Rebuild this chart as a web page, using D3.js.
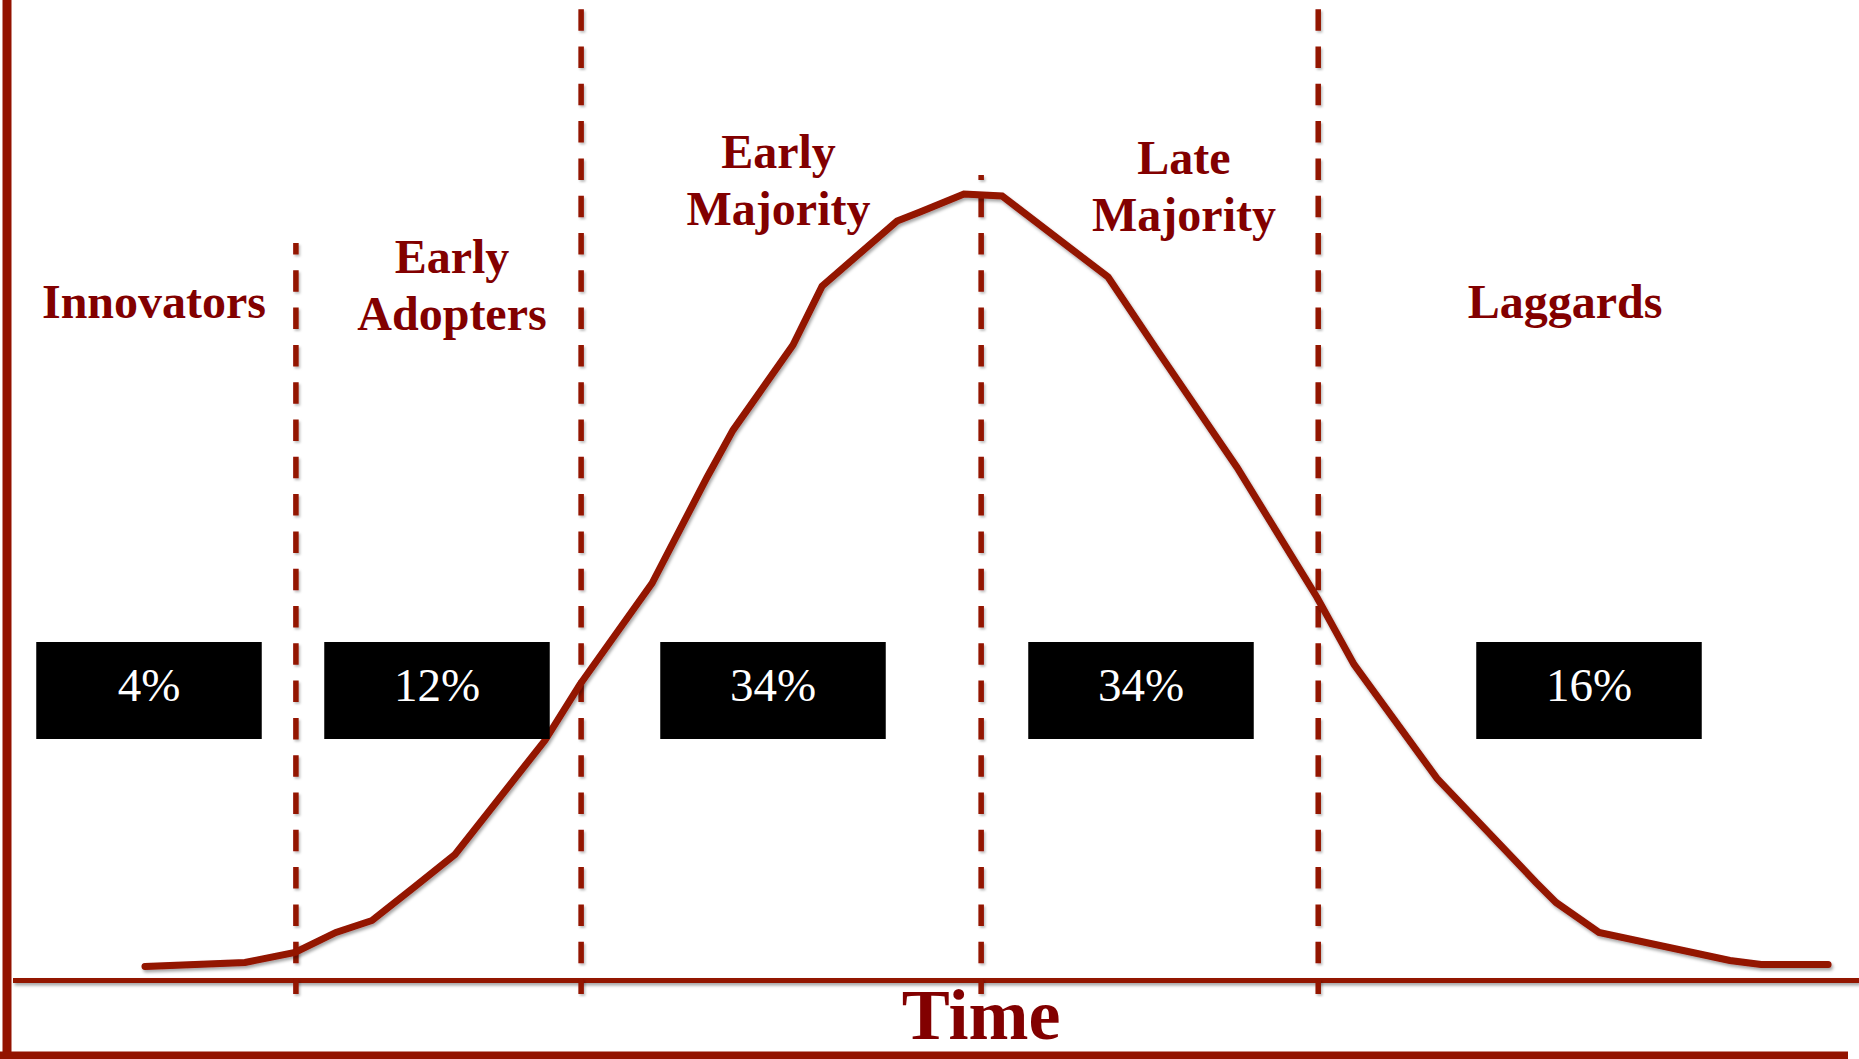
<!DOCTYPE html>
<html>
<head>
<meta charset="utf-8">
<script src="https://cdn.jsdelivr.net/npm/d3@7"></script>
<style>
  html, body { margin: 0; padding: 0; background: #ffffff; overflow: hidden; }
  svg { display: block; }
</style>
</head>
<body>
<svg id="chart" width="1859" height="1059"></svg>
<script>
// ---------------- data ----------------
const stages = ["Innovators", "Early Adopters", "Early Majority", "Late Majority", "Laggards"];
const shares = [4, 12, 34, 34, 16];
// adoption curve (time on x, relative adoption on y, peak ~100)
const curveX = [7.45, 12.85, 15.55, 17.76, 19.71, 22.03, 24.19, 29.05, 30.94, 34.83, 37.80, 39.20, 42.44, 44.01,
                48.06, 49.30, 51.67, 53.73, 59.45, 62.10, 66.41, 70.73, 72.73, 77.21, 82.56, 83.64, 85.96, 93.03, 94.71, 98.33];
const curveY = [1.78, 2.29, 3.56, 6.10, 7.62, 11.94, 16.01, 30.50, 37.61, 50.44, 63.91, 69.89, 80.69, 88.18,
                96.44, 97.59, 99.87, 99.62, 89.33, 80.05, 65.18, 48.67, 40.15, 25.67, 12.45, 9.91, 6.10, 2.54, 2.03, 2.03];
// stage boundaries on the time axis
const dividers = [15.6, 31.0, 52.6, 70.8];
const axisTitle = "Time";

// ---------------- layout ----------------
const W = 1859, H = 1059;
const RED = "#931300";
const TEXT_RED = "#820000";
const SERIF = "'Liberation Serif', 'Times New Roman', Times, serif";

const svg = d3.select("#chart");
svg.append("rect").attr("width", W).attr("height", H).attr("fill", "#fff");

const defs = svg.append("defs");
function shadow(id, dx, dy, sd, op) {
  const f = defs.append("filter").attr("id", id)
    .attr("filterUnits", "userSpaceOnUse")
    .attr("x", 0).attr("y", 0).attr("width", W).attr("height", H);
  f.append("feDropShadow").attr("dx", dx).attr("dy", dy).attr("stdDeviation", sd)
    .attr("flood-color", "#000").attr("flood-opacity", op);
}
shadow("shadow", 1.5, 2.5, 1.4, 0.35);
shadow("shadowS", 1.5, 2, 1, 0.25);

const x = d3.scaleLinear().domain([0, 100]).range([7, 1859]);
const y = d3.scaleLinear().domain([0, 100]).range([980.5, 193]);

// frame: left and bottom borders
svg.append("line").attr("x1", x(0)).attr("x2", x(0)).attr("y1", 0).attr("y2", H)
  .attr("stroke", RED).attr("stroke-width", 9);
svg.append("line").attr("x1", 0).attr("x2", 1848).attr("y1", 1055.5).attr("y2", 1055.5)
  .attr("stroke", RED).attr("stroke-width", 8);

// baseline (time axis)
svg.append("line").attr("x1", x(0) + 6).attr("x2", W).attr("y1", y(0)).attr("y2", y(0))
  .attr("stroke", RED).attr("stroke-width", 5).attr("filter", "url(#shadow)");

// dashed stage dividers
const dividerTop = [243, 9, 175, 9];
const dashPeriod = 37.3, dashLen = 21.5, dashPhase = 9.2;
svg.append("g").selectAll("line").data(dividers).join("line")
  .attr("x1", d => x(d)).attr("x2", d => x(d))
  .attr("y1", (d, i) => dividerTop[i]).attr("y2", 994)
  .attr("stroke", RED).attr("stroke-width", 5.5)
  .attr("stroke-dasharray", `${dashLen},${dashPeriod - dashLen}`)
  .attr("stroke-dashoffset", (d, i) => ((dividerTop[i] - dashPhase) % dashPeriod + dashPeriod) % dashPeriod)
  .attr("filter", "url(#shadowS)");

// adoption curve
const pts = curveX.map((v, i) => [v, curveY[i]]);
const line = d3.line().x(d => x(d[0])).y(d => y(d[1]));
svg.append("path").datum(pts).attr("d", line)
  .attr("fill", "none").attr("stroke", RED).attr("stroke-width", 7)
  .attr("stroke-linecap", "round").attr("stroke-linejoin", "miter")
  .attr("filter", "url(#shadow)");

// share boxes
const boxCenters = [149, 437, 773, 1141, 1589];
const boxW = 225.5, boxH = 97, boxTop = 642;
const boxes = svg.append("g").selectAll("g").data(shares).join("g");
boxes.append("rect")
  .attr("x", (d, i) => boxCenters[i] - boxW / 2).attr("y", boxTop)
  .attr("width", boxW).attr("height", boxH).attr("fill", "#000");
boxes.append("text")
  .attr("x", (d, i) => boxCenters[i]).attr("y", 701)
  .attr("text-anchor", "middle").attr("fill", "#fff")
  .attr("font-family", SERIF).attr("font-size", 47)
  .text(d => d + "%");

// stage labels
const labelCenters = [154, 452, 778.5, 1184, 1565];
const labelBase = [318, 273, 168, 174, 318];
const lineGap = 56.5;
const labels = svg.append("g").selectAll("text").data(stages).join("text")
  .attr("text-anchor", "middle").attr("fill", TEXT_RED)
  .attr("font-family", SERIF).attr("font-weight", "bold").attr("font-size", 48);
labels.each(function (d, i) {
  const parts = d.split(" ");
  d3.select(this).selectAll("tspan").data(parts).join("tspan")
    .attr("x", labelCenters[i])
    .attr("y", (p, j) => labelBase[i] + j * lineGap)
    .text(p => p);
});

// axis title
svg.append("text").attr("x", x(dividers[2])).attr("y", 1039)
  .attr("text-anchor", "middle").attr("fill", TEXT_RED)
  .attr("font-family", SERIF).attr("font-weight", "bold").attr("font-size", 72)
  .text(axisTitle);
</script>
</body>
</html>
